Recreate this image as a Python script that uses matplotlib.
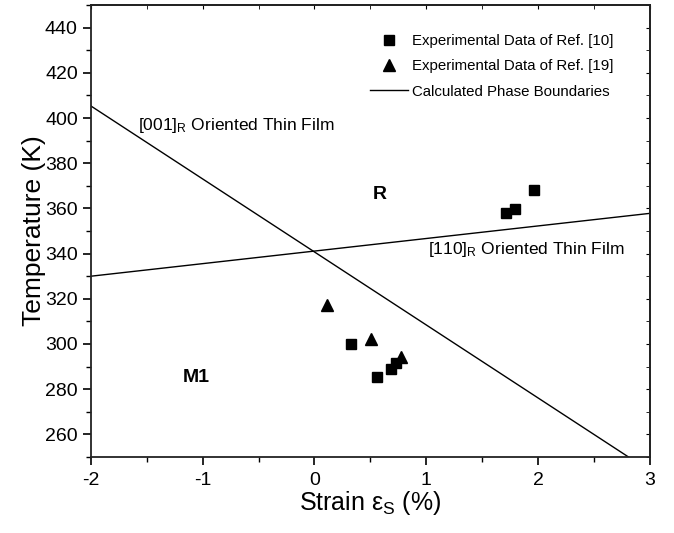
import matplotlib
matplotlib.use("Agg")
import matplotlib.pyplot as plt
from matplotlib.ticker import MultipleLocator

plt.rcParams['font.family'] = ['Liberation Sans', 'DejaVu Sans']
plt.rcParams['axes.unicode_minus'] = False

# Experimental data of Ref. [10] (squares)
sq_strain = [0.33, 0.555, 0.683, 0.728, 1.718, 1.79, 1.96]
sq_temp = [300.0, 285.5, 288.8, 291.7, 358.1, 359.9, 368.0]
# Experimental data of Ref. [19] (triangles)
tri_strain = [0.114, 0.507, 0.776]
tri_temp = [317.3, 302.1, 294.2]
# Calculated phase boundaries
b001_strain = [-2.0, 2.81]
b001_temp = [405.3, 250.0]
b110_strain = [-2.0, 3.0]
b110_temp = [330.0, 357.8]

fig = plt.figure(figsize=(6.74, 5.33), dpi=100)
ax = fig.add_axes([0.135, 0.1426, 0.829, 0.848])

ax.plot(sq_strain, sq_temp, 's', color='black', markersize=7.5, linestyle='none',
        label='Experimental Data of Ref. [10]')
ax.plot(tri_strain, tri_temp, '^', color='black', markersize=9, linestyle='none',
        label='Experimental Data of Ref. [19]')
ax.plot(b001_strain, b001_temp, '-', color='black', linewidth=1.0,
        label='Calculated Phase Boundaries')
ax.plot(b110_strain, b110_temp, '-', color='black', linewidth=1.0)

ax.set_xlim(-2, 3)
ax.set_ylim(250, 450)
ax.xaxis.set_major_locator(MultipleLocator(1))
ax.xaxis.set_minor_locator(MultipleLocator(0.5))
ax.yaxis.set_minor_locator(MultipleLocator(10))
ax.set_yticks(range(260, 441, 20))

ax.tick_params(axis='both', which='major', direction='out', length=6, width=1.2,
               labelsize=14, top=False, right=False)
ax.tick_params(axis='both', which='minor', direction='out', length=3.5, width=1.0,
               top=False, right=False)
ax.tick_params(axis='x', which='major', pad=5)
ax2 = ax.secondary_xaxis('top')
ax2.tick_params(which='both', direction='in', labeltop=False, length=3)
ax2.xaxis.set_major_locator(MultipleLocator(1))
ax2.xaxis.set_minor_locator(MultipleLocator(0.5))
ax2.set_xticklabels([])
ax3 = ax.secondary_yaxis('right')
ax3.tick_params(which='both', direction='in', labelright=False, length=3)
ax3.yaxis.set_major_locator(MultipleLocator(20))
ax3.yaxis.set_minor_locator(MultipleLocator(10))
ax3.set_yticklabels([])
for s in list(ax.spines.values()) + [ax2.spines['top'], ax3.spines['right']]:
    s.set_linewidth(1.3)
    s.set_color('#222222')

ax.set_xlabel(r'Strain $\mathregular{\varepsilon_S}$ (%)', fontsize=18, labelpad=0)
ax.set_ylabel('Temperature (K)', fontsize=19)
ax.yaxis.set_label_coords(-0.08, 0.5)

ax.text(0.585, 366, 'R', fontsize=14, fontweight='bold', ha='center', va='center')
ax.text(-1.06, 285.0, 'M1', fontsize=14, fontweight='bold', ha='center', va='center')
ax.text(-1.58, 396.5, r'[001]$\mathregular{_R}$ Oriented Thin Film', fontsize=12.5,
        ha='left', va='center')
ax.text(1.015, 342, r'[110]$\mathregular{_R}$ Oriented Thin Film', fontsize=12.5,
        ha='left', va='center')

leg = ax.legend(loc='upper left', bbox_to_anchor=(370 / 674, 1 - 34 / 533),
                bbox_transform=fig.transFigure, frameon=False,
                fontsize=10.8, handlelength=2.5, handletextpad=0.3,
                labelspacing=0.75, borderpad=0, borderaxespad=0)

fig.savefig('out.png', dpi=100)
